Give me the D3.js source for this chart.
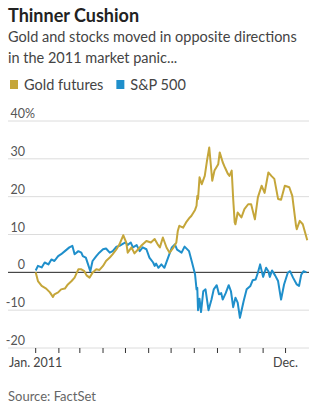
<!DOCTYPE html>
<html>
<head>
<meta charset="utf-8">
<script src="https://cdn.jsdelivr.net/npm/d3@7"></script>
<style>
  body { margin: 0; background: #fff; }
  svg { display: block; font-family: Lato, "Open Sans", sans-serif; }
</style>
</head>
<body>
<div id="chart"></div>
<script>
// percent change since start of 2011
const goldDates = ['2011-01-01','2011-01-04','2011-01-09','2011-01-15','2011-01-20','2011-01-24','2011-01-26','2011-01-31',
  '2011-02-04','2011-02-09','2011-02-13','2011-02-18','2011-02-22','2011-02-27','2011-03-03','2011-03-07','2011-03-10',
  '2011-03-14','2011-03-18','2011-03-23','2011-03-27','2011-04-01','2011-04-05','2011-04-10','2011-04-14','2011-04-19',
  '2011-04-23','2011-04-28','2011-05-02','2011-05-04','2011-05-09','2011-05-13','2011-05-18','2011-05-22','2011-05-29',
  '2011-06-04','2011-06-09','2011-06-13','2011-06-16','2011-06-20','2011-06-25','2011-06-29','2011-07-04','2011-07-08',
  '2011-07-10','2011-07-12','2011-07-17','2011-07-21','2011-07-26','2011-07-28','2011-08-02','2011-08-04','2011-08-05',
  '2011-08-06','2011-08-08','2011-08-11','2011-08-15','2011-08-18','2011-08-21','2011-08-25','2011-08-28','2011-09-02',
  '2011-09-04','2011-09-08','2011-09-11','2011-09-15','2011-09-17','2011-09-20','2011-09-22','2011-09-24','2011-09-25',
  '2011-09-28','2011-10-03','2011-10-07','2011-10-12','2011-10-16','2011-10-21','2011-10-25','2011-10-30','2011-11-03',
  '2011-11-08','2011-11-12','2011-11-16','2011-11-21','2011-11-25','2011-11-30','2011-12-06','2011-12-10','2011-12-15',
  '2011-12-16','2011-12-20','2011-12-24','2011-12-29','2011-12-30'];
const goldValues = [0,-2.3,-3.6,-4.3,-5.3,-6.5,-5.8,-5.3,
  -4.5,-4.3,-3.2,-2.3,-1.4,0.8,0.8,0.3,-0.8,
  -1.4,-0.1,0.8,0.6,1.7,3,3.9,4.8,6.1,
  7.4,9.8,7.9,5.2,6.6,5,6.1,7,8.3,
  7.9,8.8,7.4,6.6,9.2,6.5,5.2,6.5,7.9,
  11,12.3,11.8,13.2,14.5,14.9,16.5,17.6,20.2,
  19.4,25.1,23.3,25.5,29.5,33,24.2,26.9,28.6,
  31.7,29.1,27.7,26,25.5,26.9,19.4,13.2,12.7,
  15.8,14.5,16.7,18,18,14,19.8,22.9,21,
  26.4,25.5,24.7,19.4,19.2,22.9,22.5,20.2,12.3,
  11.4,13.6,12.7,9.2,8.5];

const spxDates = ['2011-01-01','2011-01-04','2011-01-09','2011-01-13','2011-01-18','2011-01-22','2011-01-26','2011-01-31',
  '2011-02-04','2011-02-09','2011-02-15','2011-02-19','2011-02-22','2011-02-27','2011-03-03','2011-03-05','2011-03-09',
  '2011-03-12','2011-03-15','2011-03-18','2011-03-23','2011-03-27','2011-04-01','2011-04-05','2011-04-10','2011-04-14',
  '2011-04-19','2011-04-23','2011-04-28','2011-05-01','2011-05-04','2011-05-08','2011-05-11','2011-05-16','2011-05-20',
  '2011-05-24','2011-05-29','2011-06-02','2011-06-07','2011-06-09','2011-06-11','2011-06-14','2011-06-18','2011-06-22',
  '2011-06-27','2011-07-02','2011-07-06','2011-07-09','2011-07-15','2011-07-19','2011-07-24','2011-07-25','2011-07-29',
  '2011-08-02','2011-08-04','2011-08-05','2011-08-06','2011-08-08','2011-08-10','2011-08-13','2011-08-16','2011-08-20',
  '2011-08-24','2011-08-27','2011-08-31','2011-09-03','2011-09-06','2011-09-08','2011-09-12','2011-09-16','2011-09-19',
  '2011-09-22','2011-09-25','2011-09-28','2011-10-01','2011-10-06','2011-10-10','2011-10-15','2011-10-18','2011-10-22',
  '2011-10-25','2011-10-28','2011-11-01','2011-11-05','2011-11-08','2011-11-10','2011-11-13','2011-11-17','2011-11-21',
  '2011-11-25','2011-11-29','2011-12-04','2011-12-07','2011-12-11','2011-12-16','2011-12-19','2011-12-22','2011-12-25',
  '2011-12-29'];
const spxValues = [0.5,1.7,1.3,2.6,2.1,3.4,3,4.3,
  4.8,5.6,6.6,7,4.8,5.6,5.2,4.3,3.9,
  2.1,0.3,3,4.3,5.2,6.1,6.3,5.2,5.6,
  6.8,7,7.6,7.9,7.2,7.9,6.6,7.2,5.6,
  6.6,6.1,3.9,2.6,1.7,2.3,1.2,2.1,1.2,
  3.9,6.6,7.4,6,5.2,6.8,5.8,5.6,2.6,
  -0.5,-4.5,-4.1,-10,-7,-10.5,-5,-4.5,-10,
  -7.2,-4.5,-3.4,-5.8,-5.5,-7.2,-5.5,-3.4,-5,
  -9.2,-6.7,-8,-12,-7.6,-4.5,-3.6,-2.1,-1.9,
  -0.1,2.1,-1.2,1.2,0.3,-1.2,0.5,-0.8,-2.3,
  -7.2,-3.2,-0.1,0.3,-1.4,-3.2,-3.6,-0.6,0.3,
  0];

const yTicks = [-20, -10, 0, 10, 20, 30, 40];
const seriesNames = ['Gold futures', 'S&P 500'];
const seriesColors = ['#c5a63a', '#1f8fcb'];

const width = 323, height = 409;
const parse = d3.timeParse('%Y-%m-%d');
const gold = goldDates.map((d, i) => ({ date: parse(d), value: goldValues[i] }));
const spx = spxDates.map((d, i) => ({ date: parse(d), value: spxValues[i] }));

const svg = d3.select('#chart').append('svg')
  .attr('width', width)
  .attr('height', height);

// header
svg.append('text')
  .attr('x', 8).attr('y', 22)
  .attr('font-size', 18).attr('font-weight', 700)
  .attr('fill', '#222')
  .text('Thinner Cushion');

svg.append('text')
  .attr('x', 8).attr('y', 42)
  .attr('font-size', 14.5).attr('fill', '#444')
  .text('Gold and stocks moved in opposite directions');
svg.append('text')
  .attr('x', 8).attr('y', 63)
  .attr('font-size', 14.5).attr('fill', '#444')
  .text('in the 2011 market panic...');

// legend
const legend = svg.append('g').attr('transform', 'translate(10,90)');
let lx = 0;
seriesNames.forEach((name, i) => {
  legend.append('rect')
    .attr('x', lx).attr('y', -10)
    .attr('width', 8).attr('height', 9)
    .attr('fill', seriesColors[i]);
  const t = legend.append('text')
    .attr('x', lx + 14).attr('y', 0)
    .attr('font-size', 14.5).attr('fill', '#444')
    .text(name);
  lx += 14 + t.node().getComputedTextLength() + 13;
});

// scales
const x = d3.scaleTime()
  .domain([new Date(2011, 0, 1), new Date(2011, 11, 31)])
  .range([35.7, 308]);
const y = d3.scaleLinear()
  .domain([-20, 40])
  .range([348, 121]);

const gridLeft = 8, gridRight = 309;

// gridlines + labels
const grid = svg.append('g');
grid.selectAll('line')
  .data(yTicks)
  .join('line')
  .attr('x1', gridLeft).attr('x2', gridRight)
  .attr('y1', d => y(d)).attr('y2', d => y(d))
  .attr('stroke', d => d === 0 ? '#222' : '#dcdcdc')
  .attr('stroke-width', 1);

grid.selectAll('text')
  .data(yTicks)
  .join('text')
  .attr('x', 25)
  .attr('y', d => y(d) - 3)
  .attr('text-anchor', 'end')
  .attr('font-size', 12.5)
  .attr('fill', '#555')
  .text(d => d);

svg.append('text')
  .attr('x', 25).attr('y', y(40) - 3)
  .attr('font-size', 12.5).attr('fill', '#555')
  .text('%');

// x axis ticks at month starts
const months = d3.timeMonth.range(new Date(2011, 0, 1), new Date(2011, 11, 2));
svg.append('g')
  .selectAll('line')
  .data(months)
  .join('line')
  .attr('x1', d => x(d)).attr('x2', d => x(d))
  .attr('y1', y(-20)).attr('y2', y(-20) + 5)
  .attr('stroke', '#333')
  .attr('stroke-width', 1);

const xLabels = [
  { date: new Date(2011, 0, 1), text: 'Jan. 2011' },
  { date: new Date(2011, 11, 1), text: 'Dec.' }
];
svg.append('g')
  .selectAll('text')
  .data(xLabels)
  .join('text')
  .attr('x', d => x(d.date))
  .attr('y', 367)
  .attr('text-anchor', 'middle')
  .attr('font-size', 12.5)
  .attr('fill', '#444')
  .text(d => d.text);

// lines
const line = d3.line()
  .x(d => x(d.date))
  .y(d => y(d.value));

svg.append('path')
  .datum(spx)
  .attr('d', line)
  .attr('fill', 'none')
  .attr('stroke', seriesColors[1])
  .attr('stroke-width', 2)
  .attr('stroke-linejoin', 'round');

svg.append('path')
  .datum(gold)
  .attr('d', line)
  .attr('fill', 'none')
  .attr('stroke', seriesColors[0])
  .attr('stroke-width', 2)
  .attr('stroke-linejoin', 'round');

// source
svg.append('text')
  .attr('x', 8).attr('y', 401)
  .attr('font-size', 13).attr('fill', '#666')
  .text('Source: FactSet');
</script>
</body>
</html>
